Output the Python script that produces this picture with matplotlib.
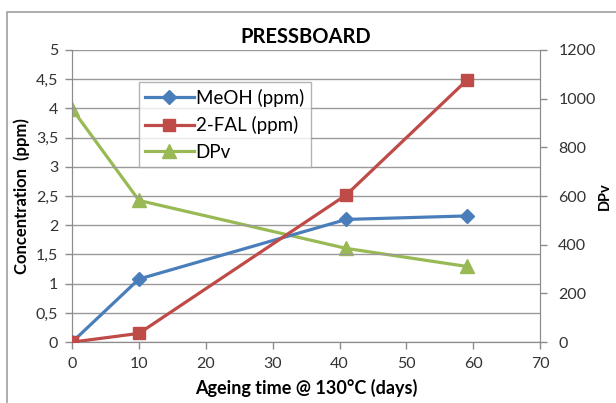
import matplotlib
matplotlib.use("Agg")
import matplotlib.pyplot as plt
from matplotlib.patches import Rectangle
from matplotlib.ticker import FuncFormatter

plt.rcParams['font.family'] = ['Lato', 'DejaVu Sans']

# data
days = [0, 10, 41, 59]
meoh = [0.0, 1.08, 2.10, 2.16]
fal = [0.0, 0.15, 2.52, 4.48]
dpv = [958, 582, 385, 311]

blue = '#4a7ebb'
red = '#be4b48'
green = '#98b954'
grey = '#8c8c8c'

fig = plt.figure(figsize=(6.16, 4.03), dpi=100)
ax = fig.add_axes([0.117, 0.151, 0.760, 0.725])
ax2 = ax.twinx()

# outer chart frame, like the Excel chart area
fig.patches.append(Rectangle((0.011, -0.1), 1.2, 1.07, transform=fig.transFigure,
                             fill=False, edgecolor='#a0a0a0', linewidth=1.2))

l1, = ax.plot(days, meoh, color=blue, lw=2.3, marker='D', ms=7, label='MeOH (ppm)', zorder=4)
l2, = ax.plot(days, fal, color=red, lw=2.3, marker='s', ms=9, label='2-FAL (ppm)', zorder=4)
l3, = ax2.plot(days, dpv, color=green, lw=2.3, marker='^', ms=10, label='DPv', zorder=4)

ax.set_xlim(0, 70)
ax.set_ylim(0, 5)
ax2.set_ylim(0, 1200)
ax.set_xticks(range(0, 71, 10))
ax.set_yticks([i * 0.5 for i in range(11)])
ax2.set_yticks(range(0, 1201, 200))
ax.yaxis.set_major_formatter(FuncFormatter(lambda v, p: ('%g' % v).replace('.', ',')))
ax.set_axisbelow(True)
ax.grid(axis='y', color='#999999', lw=1)
ax.set_zorder(ax2.get_zorder() + 1)
ax.patch.set_visible(False)

for a in (ax, ax2):
    a.spines['top'].set_visible(False)
    for s in ('left', 'right', 'bottom'):
        a.spines[s].set_color(grey)
    a.tick_params(colors=grey, labelcolor='#333333', labelsize=11.5, length=5, width=1)
ax.tick_params(axis='x', pad=6)
ax.tick_params(axis='y', pad=5)
ax2.tick_params(axis='y', pad=8)

ax.set_title('PRESSBOARD', fontsize=14.5, fontweight='bold', pad=5)
ax.set_xlabel('Ageing time @ 130°C (days)', fontsize=13, fontweight='bold', va='center')
ax.xaxis.set_label_coords(0.5, -0.158)
ax.set_ylabel('Concentration  (ppm)', fontsize=12, fontweight='bold', va='center')
ax.yaxis.set_label_coords(-0.107, 0.5)
ax2.set_ylabel('DPv', fontsize=10.5, fontweight='bold', va='center')
ax2.yaxis.set_label_coords(1.139, 0.5)

leg = ax.legend(handles=[l1, l2, l3], loc='upper left', bbox_to_anchor=(0.142, 0.89),
                fontsize=13.5, frameon=True, fancybox=False, edgecolor='#a0a0a0',
                handlelength=2.6, borderpad=0.35, labelspacing=0.5, handletextpad=0.1,
                borderaxespad=0)
leg.get_frame().set_linewidth(1)

fig.savefig('out.png', dpi=100)
